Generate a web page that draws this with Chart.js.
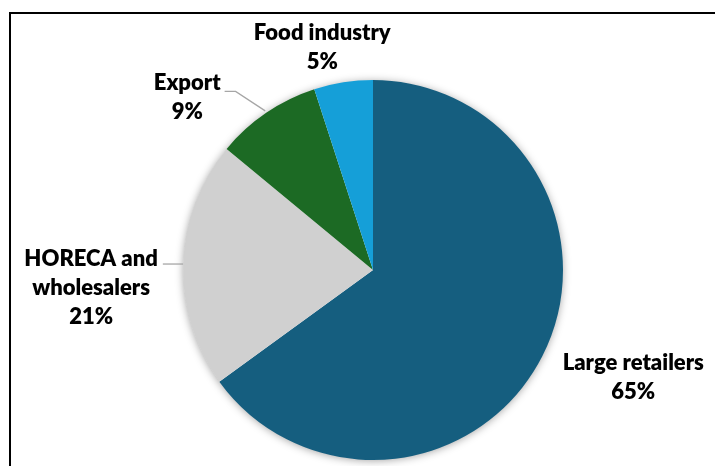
<!DOCTYPE html>
<html>
<head>
<meta charset="utf-8">
<script src="https://cdn.jsdelivr.net/npm/chart.js@4.4.0/dist/chart.umd.min.js"></script>
<style>
  html, body { margin: 0; padding: 0; background: #fff; overflow: hidden; }
  #wrap { position: relative; width: 715px; height: 466px; }
  #frame { position: absolute; left: 9px; top: 12px; width: 800px; height: 800px;
           border-left: 2px solid #000; border-top: 2px solid #000; pointer-events: none; }
  canvas { position: absolute; left: 0; top: 0; }
</style>
</head>
<body>
<div id="wrap">
  <canvas id="c" width="715" height="466"></canvas>
  <div id="frame"></div>
</div>
<script>
// Sales channels, share of volume
const categories = ['Large retailers', 'HORECA and wholesalers', 'Export', 'Food industry'];
const shares = [65, 21, 9, 5];
const labelLines = [['Large retailers'], ['HORECA and', 'wholesalers'], ['Export'], ['Food industry']];
const sliceColors = ['#155E7F', '#D0D0D0', '#1C6A24', '#159FD8'];

// Label placement relative to each slice's outer mid-point, plus optional leader lines
const labelStyle = [
  { dx: 91, dy: 21, leader: null },
  { dx: -92, dy: 24, leader: 'horizontal' },
  { dx: -79, dy: -15, leader: 'elbow' },
  { dx: -21, dy: -35, leader: null }
];

const FONT = '800 22px Lato';
const LINE_H = 29;

const shadowPlugin = {
  id: 'pieShadow',
  beforeDatasetsDraw(chart) {
    const arc = chart.getDatasetMeta(0).data[0];
    if (!arc) return;
    const ctx = chart.ctx;
    ctx.save();
    ctx.shadowColor = 'rgba(0,0,0,0.38)';
    ctx.shadowBlur = 9;
    ctx.shadowOffsetX = 0;
    ctx.shadowOffsetY = 1;
    ctx.fillStyle = '#ffffff';
    ctx.beginPath();
    ctx.arc(arc.x, arc.y, arc.outerRadius - 0.5, 0, Math.PI * 2);
    ctx.fill();
    ctx.restore();
  }
};

const labelPlugin = {
  id: 'sliceLabels',
  afterDatasetsDraw(chart) {
    const ctx = chart.ctx;
    const meta = chart.getDatasetMeta(0);
    const total = shares.reduce((a, b) => a + b, 0);
    meta.data.forEach((arc, i) => {
      const mid = (arc.startAngle + arc.endAngle) / 2;
      const px = arc.x + Math.cos(mid) * arc.outerRadius;
      const py = arc.y + Math.sin(mid) * arc.outerRadius;
      const st = labelStyle[i];
      const cx = px + st.dx;
      const cy = py + st.dy;
      const lines = labelLines[i].concat([Math.round(shares[i] / total * 100) + '%']);
      ctx.save();
      ctx.font = FONT;
      ctx.fillStyle = '#000000';
      ctx.textAlign = 'center';
      ctx.textBaseline = 'middle';
      const top = cy - (lines.length - 1) * LINE_H / 2;
      lines.forEach((t, k) => ctx.fillText(t, cx, top + k * LINE_H));
      const firstW = ctx.measureText(lines[0]).width;
      ctx.strokeStyle = '#A6A6A6';
      ctx.lineWidth = 1.3;
      if (st.leader === 'horizontal') {
        ctx.beginPath();
        ctx.moveTo(px, py);
        ctx.lineTo(cx + firstW / 2 + 5, py);
        ctx.stroke();
      } else if (st.leader === 'elbow') {
        const ly = top + 8;
        const ex = cx + firstW / 2 + 4;
        ctx.beginPath();
        ctx.moveTo(px - 1, py - 2);
        ctx.lineTo(ex + 11, ly);
        ctx.lineTo(ex, ly);
        ctx.stroke();
      }
      ctx.restore();
    });
  }
};

new Chart(document.getElementById('c'), {
  type: 'pie',
  data: {
    labels: categories,
    datasets: [{
      data: shares,
      backgroundColor: sliceColors,
      borderWidth: 0
    }]
  },
  options: {
    responsive: false,
    animation: false,
    layout: { padding: { top: 80, bottom: 6, left: 150, right: 119 } },
    plugins: {
      legend: { display: false },
      tooltip: { enabled: false }
    }
  },
  plugins: [shadowPlugin, labelPlugin]
});
</script>
</body>
</html>
